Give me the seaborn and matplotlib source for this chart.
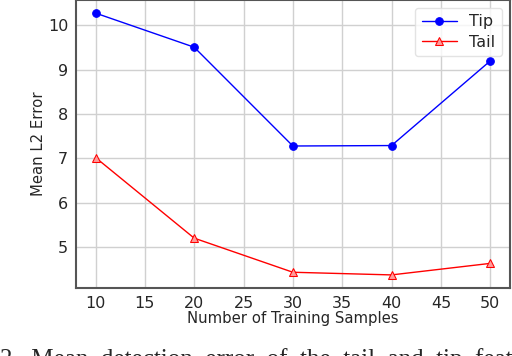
import pandas as pd
import matplotlib
matplotlib.use("Agg")
import matplotlib.pyplot as plt
import seaborn as sns

# -----------------------------
# Data
# -----------------------------
samples = [10, 20, 30, 40, 50]
tip_error = [10.28, 9.51, 7.28, 7.29, 9.20]
tail_error = [7.02, 5.20, 4.43, 4.37, 4.63]

df = pd.DataFrame({
    "samples": samples * 2,
    "error": tip_error + tail_error,
    "part": ["Tip"] * len(samples) + ["Tail"] * len(samples),
})

sns.set_style("whitegrid")
plt.rcParams["font.family"] = ["DejaVu Sans"]

fig = plt.figure(figsize=(5.12, 3.56), dpi=100)
ax = fig.add_axes([0.148, 0.191, 0.848, 0.809])

sns.lineplot(data=df[df.part == "Tip"], x="samples", y="error", ax=ax,
             color="blue", marker="o", markersize=5.5, linewidth=1,
             markeredgecolor="blue", label="Tip")
sns.lineplot(data=df[df.part == "Tail"], x="samples", y="error", ax=ax,
             color="red", marker="^", markersize=6, linewidth=1,
             markeredgecolor="red", markerfacecolor="#ff9a9a", label="Tail")

ax.set_xticks([10, 15, 20, 25, 30, 35, 40, 45, 50])
ax.set_yticks([5, 6, 7, 8, 9, 10])
ax.tick_params(labelsize=11.5, pad=2, length=3.5, width=1, color="#bbbbbb")
ax.set_xlabel("Number of Training Samples", fontsize=10.7, labelpad=0)
ax.set_ylabel("Mean L2 Error", fontsize=10.7, labelpad=1)
ax.grid(color="#d0d0d0", linewidth=1)

for s in ax.spines.values():
    s.set_color("#555555")
    s.set_linewidth(1.5)

leg = ax.legend(loc="upper right", fontsize=11.5, frameon=True,
                handlelength=2.2, labelspacing=0.35, borderaxespad=0.5)
leg.get_frame().set_edgecolor("#dddddd")

# caption cut off at bottom of the image
fig.text(0.0, -0.027, "2.  Mean  detection  error  of  the  tail  and  tip  feat",
         fontsize=18, family="Liberation Serif", va="baseline")

fig.savefig("out.png", dpi=100)
